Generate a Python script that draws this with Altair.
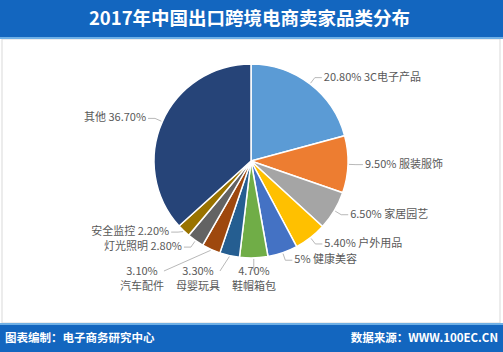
import altair as alt
import pandas as pd
import numpy as np

# ---- data ----
categories = ["3C电子产品", "服装服饰", "家居园艺", "户外用品", "健康美容", "鞋帽箱包",
              "母婴玩具", "汽车配件", "灯光照明", "安全监控", "其他"]
shares = [20.8, 9.5, 6.5, 5.4, 5.0, 4.7, 3.3, 3.1, 2.8, 2.2, 36.7]
pct_labels = ["20.80%", "9.50%", "6.50%", "5.40%", "5%", "4.70%", "3.30%",
              "3.10%", "2.80%", "2.20%", "36.70%"]
colors = ["#5B9BD5", "#ED7D31", "#A5A5A5", "#FFC000", "#4472C4", "#70AD47",
          "#255E91", "#9E480E", "#636363", "#997300", "#264478"]
title_text = "2017年中国出口跨境电商卖家品类分布"
footer_left = "图表编制：电子商务研究中心"
footer_right = "数据来源：WWW.100EC.CN"

# ---- layout ----
W, H = 503, 352
CX, CY, R = 251, 161, 97
FONT = "Noto Sans CJK SC"

df = pd.DataFrame({"cat": categories, "share": shares, "pct": pct_labels,
                   "idx": list(range(len(categories)))})
total = df["share"].sum()
mid = ((df["share"].cumsum() - df["share"] / 2) / total * 2 * np.pi).to_numpy()
deg = np.degrees(mid)
s, c = np.sin(mid), np.cos(mid)
ex = CX + (R + 1) * s
ey = CY - (R + 1) * c
ax = CX + (R + 8) * s
ay = CY - (R + 8) * c
n = len(df)

# bottom group: two-line centred labels under the pie
bottom = (deg > 170) & (deg < 210)
side = np.where(bottom, "bottom", np.where(s > 0, "right", "left"))

gap = 15.0
order = np.argsort(mid)
right_idx = [i for i in order if side[i] == "right"]
for a, b in zip(right_idx, right_idx[1:]):
    ay[b] = max(ay[b], ay[a] + gap)
left_idx = [i for i in order if side[i] == "left"]
for a, b in zip(left_idx, left_idx[1:]):
    ay[b] = min(ay[b], ay[a] - gap)

tx = ax.copy()
ty = ay.copy()
hx = ax.copy()
hy = ay.copy()
for i in range(n):
    if side[i] == "right":
        hx[i] = ax[i] + 7
        tx[i] = ax[i] + 9
    elif side[i] == "left":
        hx[i] = ax[i] - 7
        tx[i] = ax[i] - 9
bot_idx = [i for i in order if side[i] == "bottom"]
hgap = 56.0
for a, b in zip(bot_idx, bot_idx[1:]):
    tx[b] = min(tx[b], tx[a] - hgap)
for i in bot_idx:
    ty[i] = CY + R + 8
    d = float(np.clip(ex[i] - tx[i], -22, 22))
    ax[i] = tx[i] + d
    ay[i] = ty[i] + 5
    hx[i] = ax[i]
    hy[i] = ay[i]

df["ex"], df["ey"] = ex, ey
df["ax"], df["ay"] = ax, ay
df["hx"], df["hy"] = hx, hy
df["tx"], df["ty"] = tx, ty
df["side"] = side
labels = []
for p, nm, sd in zip(df["pct"], df["cat"], side):
    if sd == "right":
        labels.append(f"{p} {nm}")
    elif sd == "left":
        labels.append(f"{nm} {p}")
    else:
        labels.append(f"{p}\n{nm}")
df["label"] = labels

base = alt.Chart(df)

def band(y0, y1, color):
    return alt.Chart(pd.DataFrame({"k": [0]})).mark_rect(color=color).encode(
        x=alt.value(0), x2=alt.value(W), y=alt.value(y0), y2=alt.value(y1))

frame = alt.Chart(pd.DataFrame({"k": [0]})).mark_rect(
    fill="white", stroke="#D9D9D9", strokeWidth=1
).encode(x=alt.value(2), x2=alt.value(500), y=alt.value(39), y2=alt.value(323))

top_band = band(0, 38, "#1366BF")
top_strip = band(37, 39, "#6FB0E6")
bot_band = band(325, H, "#1366BF")
bot_strip = band(323, 325, "#6FB0E6")

title = alt.Chart(pd.DataFrame({"t": [title_text]})).mark_text(
    font=FONT, fontSize=18.5, fontWeight="bold", color="white", align="center",
    baseline="middle"
).encode(x=alt.value(W / 2 - 2), y=alt.value(19), text="t:N")

foot_l = alt.Chart(pd.DataFrame({"t": [footer_left]})).mark_text(
    font=FONT, fontSize=11.5, fontWeight="bold", color="white", align="left",
    baseline="middle"
).encode(x=alt.value(5), y=alt.value(339), text="t:N")
foot_r = alt.Chart(pd.DataFrame({"t": [footer_right]})).mark_text(
    font=FONT, fontSize=11.5, fontWeight="bold", color="white", align="right",
    baseline="middle"
).encode(x=alt.value(498), y=alt.value(339), text="t:N")

pie = base.mark_arc(outerRadius=R, stroke="white", strokeWidth=1.5).encode(
    theta=alt.Theta("share:Q", stack=True),
    order=alt.Order("idx:Q"),
    color=alt.Color("cat:N", scale=alt.Scale(domain=categories, range=colors),
                    legend=None),
    x=alt.value(CX), y=alt.value(CY),
)

lead1 = base.mark_rule(color="#A6A6A6", strokeWidth=0.8).encode(
    x=alt.X("ex:Q", scale=None), y=alt.Y("ey:Q", scale=None),
    x2="ax:Q", y2="ay:Q")
lead2 = base.transform_filter(alt.datum.side != "bottom").mark_rule(
    color="#A6A6A6", strokeWidth=0.8).encode(
    x=alt.X("ax:Q", scale=None), y=alt.Y("ay:Q", scale=None),
    x2="hx:Q", y2="hy:Q")

def labels_layer(sd, align, baseline):
    return base.transform_filter(alt.datum.side == sd).mark_text(
        font=FONT, fontSize=11, color="#595959", align=align, baseline=baseline,
        lineBreak="\n", lineHeight=15
    ).encode(x=alt.X("tx:Q", scale=None), y=alt.Y("ty:Q", scale=None),
             text="label:N")

txt_r = labels_layer("right", "left", "middle")
txt_l = labels_layer("left", "right", "middle")
txt_b = labels_layer("bottom", "center", "top")

chart = alt.layer(
    frame, top_band, top_strip, bot_band, bot_strip, title, foot_l, foot_r,
    pie, lead1, lead2, txt_r, txt_l, txt_b
).properties(
    width=W, height=H, padding=0, autosize=alt.AutoSizeParams(type="none"),
    background="white"
).configure_view(stroke=None)

chart.save("out.html", embed_options={"renderer": "svg", "actions": False})
